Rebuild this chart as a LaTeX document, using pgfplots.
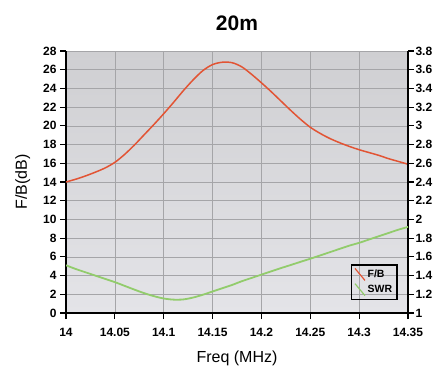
\documentclass[border=0pt]{standalone}
\usepackage{pgfplots}
\pgfplotsset{compat=1.18}
\usepackage{fontspec}
\setmainfont{Liberation Sans}
\definecolor{fbred}{RGB}{226,84,52}
\definecolor{swrgreen}{RGB}{146,204,108}
\definecolor{gridgray}{RGB}{165,165,168}
\definecolor{bgtop}{RGB}{207,207,210}
\definecolor{bgbot}{RGB}{228,228,232}
\begin{document}
\begin{tikzpicture}
\path[use as bounding box] (-66pt,-54pt) rectangle (372pt,313pt);
\begin{axis}[
  at={(0pt,0pt)}, anchor=south west,
  width=342pt, height=262pt, scale only axis,
  xmin=14, xmax=14.35, ymin=0, ymax=28,
  xtick={14,14.05,14.1,14.15,14.2,14.25,14.3,14.35},
  xticklabels={14,14.05,14.1,14.15,14.2,14.25,14.3,14.35},
  ytick={0,2,...,28},
  axis x line*=bottom, axis y line*=left,
  axis line style={black, line width=1.4pt},
  tick align=outside, major tick length=6pt,
  tick style={black, line width=1.2pt},
  grid=major, major grid style={gridgray, line width=0.6pt},
  axis background/.style={top color=bgtop, bottom color=bgbot},
  /pgf/number format/assume math mode=true,
  tick label style={font=\bfseries\fontsize{12}{12}\selectfont},
  xticklabel style={yshift=-6pt},
  xlabel={Freq (MHz)}, ylabel={F/B(dB)},
  label style={font=\fontsize{16}{16}\selectfont},
  xlabel style={yshift=-7pt},
  ylabel style={yshift=6pt},
  title={\bfseries 20m}, title style={font=\fontsize{21}{21}\selectfont, yshift=11pt},
]
\addplot[fbred, line width=1.5pt, smooth] coordinates {
(14.00,14.0) (14.01,14.3) (14.02,14.65) (14.03,15.05) (14.04,15.5) (14.05,16.1)
(14.06,16.95) (14.07,17.95) (14.08,19.05) (14.09,20.15) (14.10,21.3) (14.11,22.5)
(14.12,23.75) (14.13,24.9) (14.14,25.9) (14.15,26.55) (14.16,26.8) (14.17,26.75)
(14.18,26.3) (14.19,25.5) (14.20,24.6) (14.21,23.65) (14.22,22.65) (14.23,21.65)
(14.24,20.7) (14.25,19.85) (14.26,19.2) (14.27,18.65) (14.28,18.2) (14.29,17.8)
(14.30,17.45) (14.31,17.15) (14.32,16.85) (14.33,16.5) (14.34,16.2) (14.35,15.9)
};
\end{axis}
\begin{axis}[
  at={(0pt,0pt)}, anchor=south west,
  width=342pt, height=262pt, scale only axis,
  xmin=14, xmax=14.35, ymin=1, ymax=3.8,
  axis x line=none, axis y line*=right,
  axis line style={black, line width=1.4pt},
  ytick={1,1.2,1.4,1.6,1.8,2,2.2,2.4,2.6,2.8,3,3.2,3.4,3.6,3.8},
  yticklabels={1,1.2,1.4,1.6,1.8,2,2.2,2.4,2.6,2.8,3,3.2,3.4,3.6,3.8},
  tick align=outside, major tick length=6pt,
  tick style={black, line width=1.2pt},
  tick label style={font=\bfseries\fontsize{12}{12}\selectfont},
  yticklabel style={xshift=-2pt},
  legend style={at={(0.97,0.05)}, anchor=south east, fill=none, draw=black,
    line width=1.3pt, font=\bfseries\fontsize{10.5}{11}\selectfont,
    inner sep=3pt, row sep=2pt},
  legend cell align=left,
  legend image code/.code={\draw[#1, line width=1.2pt] (0pt,6pt) -- (10pt,-6pt);},
]
\addlegendimage{fbred, line width=1.5pt}
\addlegendentry{F/B}
\addplot[swrgreen, line width=1.8pt, smooth] coordinates {
(14.00,1.51) (14.01,1.47) (14.02,1.435) (14.03,1.40) (14.04,1.365) (14.05,1.33)
(14.06,1.29) (14.07,1.25) (14.08,1.212) (14.09,1.18) (14.10,1.155) (14.11,1.143)
(14.12,1.145) (14.13,1.165) (14.14,1.195) (14.15,1.23) (14.16,1.265) (14.17,1.30)
(14.18,1.34) (14.19,1.375) (14.20,1.41) (14.21,1.445) (14.22,1.48) (14.23,1.513)
(14.24,1.547) (14.25,1.58) (14.26,1.615) (14.27,1.65) (14.28,1.685) (14.29,1.72)
(14.30,1.75) (14.31,1.785) (14.32,1.82) (14.33,1.855) (14.34,1.89) (14.35,1.92)
};
\addlegendentry{SWR}
\end{axis}
\end{tikzpicture}
\end{document}
